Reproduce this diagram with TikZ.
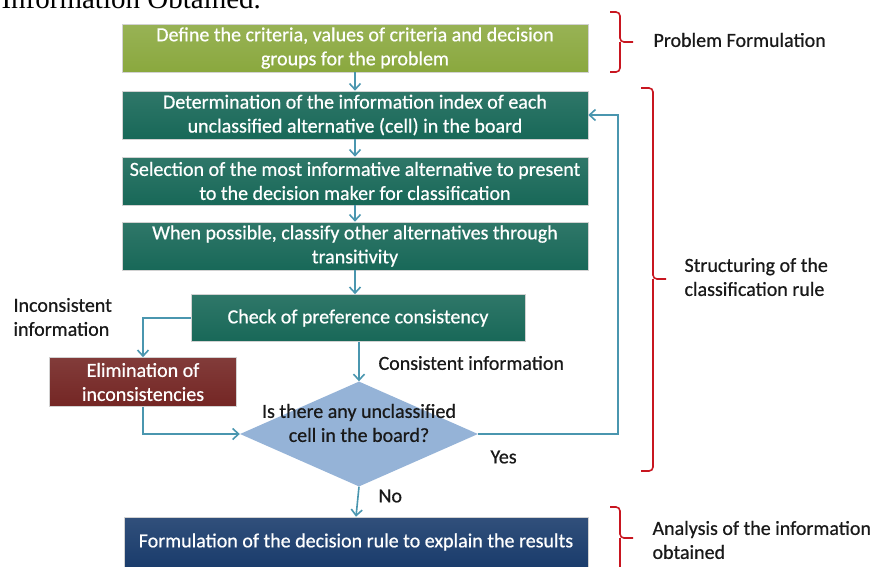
\documentclass[tikz,border=0pt]{standalone}
\usepackage{fontspec}
\setmainfont{Carlito}[FakeBold=0.6]
\newfontfamily\serifx{Liberation Serif}
\usetikzlibrary{shapes.geometric,arrows.meta}

\definecolor{olivebox}{RGB}{138,168,62}
\definecolor{tealbox}{RGB}{24,104,88}
\definecolor{redbox}{RGB}{116,38,36}
\definecolor{bluebox}{RGB}{26,60,108}
\definecolor{decfill}{RGB}{149,179,215}
\definecolor{flowline}{RGB}{74,150,175}
\definecolor{bracered}{RGB}{200,22,32}

\begin{document}
\begin{tikzpicture}[x=1pt,y=-1pt,
    box/.style={draw=gray!35,line width=0.6pt,text=white,align=center,
                inner sep=0pt,font=\fontsize{20}{24}\selectfont},
    flow/.style={draw=flowline,line width=1.6pt,-{Straight Barb[length=6pt,width=11pt]}},
    bracket/.style={draw=bracered,line width=1.6pt,rounded corners=4pt},
    note/.style={anchor=west,align=left,text=black!90,font=\fontsize{20}{24}\selectfont}]
    \useasboundingbox (0,0) rectangle (875,566);
    \clip (0,0) rectangle (875,566);

    \node[anchor=base west,font=\serifx\fontsize{29}{30}\selectfont] (head) at (-2,8) {Information Obtained.};

    % flow boxes
    \node[box,top color=olivebox!88!white,bottom color=olivebox,minimum width=466,minimum height=48] (define) at (355,48)
        {Define the criteria, values of criteria and decision\\groups for the problem};
    \node[box,top color=tealbox!90!white,bottom color=tealbox,minimum width=466,minimum height=48] (determ) at (355,115)
        {Determination of the information index of each\\unclassified alternative (cell) in the board};
    \node[box,top color=tealbox!90!white,bottom color=tealbox,minimum width=466,minimum height=48] (select) at (355,181)
        {Selection of the most informative alternative to present\\to the decision maker for classification};
    \node[box,top color=tealbox!90!white,bottom color=tealbox,minimum width=466,minimum height=48] (trans) at (355,246)
        {When possible, classify other alternatives through\\transitivity};
    \node[box,top color=tealbox!90!white,bottom color=tealbox,minimum width=334,minimum height=47] (check) at (358,318)
        {Check of preference consistency};
    \node[box,top color=redbox!90!white,bottom color=redbox,minimum width=187,minimum height=49] (elim) at (143,382)
        {Elimination of\\inconsistencies};
    \node[diamond,fill=decfill,inner sep=0pt,minimum width=238,minimum height=105,
          label={[align=center,yshift=11pt,text=black!90,font=\fontsize{20}{24}\selectfont]center:Is there any unclassified\\cell in the board?}] (dec) at (359,434) {};
    \node[box,top color=bluebox!90!white,bottom color=bluebox,minimum width=464,minimum height=50] (result) at (356,542)
        {Formulation of the decision rule to explain the results};

    % connectors
    \draw[flow] (define) -- (determ);
    \draw[flow] (determ) -- (select);
    \draw[flow] (select) -- (trans);
    \draw[flow] (trans.south) -- (trans.south |- check.north);
    \draw[flow] (dec.north |- check.south) -- (dec.north);
    \draw[flow] (check.west) -| (elim.north);
    \draw[flow] (elim.south) |- (dec.west);
    \coordinate (loop) at (618,434);
    \draw[flow] (dec.east) -- (loop) |- (determ.east);
    \draw[flow] (dec.south) -- (result.north);

    % connector labels
    \node[note] (incons) at (10,317) {Inconsistent\\information};
    \node[note] (cons) at (375,363) {Consistent information};
    \node[note] (yes) at (487,457) {Yes};
    \node[note] (no) at (375,496) {No};

    % brackets
    \draw[bracket] (610,12) -| (620,42) -- (633,42);
    \draw[bracket] (610,72) -| (620,42);
    \draw[bracket] (641,88) -| (653,279) -- (666,279);
    \draw[bracket] (641,471) -| (653,279);
    \draw[bracket] (610,507) -| (620,538) -- (633,538);
    \draw[bracket] (610,580) -| (620,538);

    \node[note] (phase1) at (650,40) {Problem Formulation};
    \node[note] (phase2) at (681,277) {Structuring of the\\classification rule};
    \node[note] (phase3) at (649,540) {Analysis of the information\\obtained};
\end{tikzpicture}
\end{document}
